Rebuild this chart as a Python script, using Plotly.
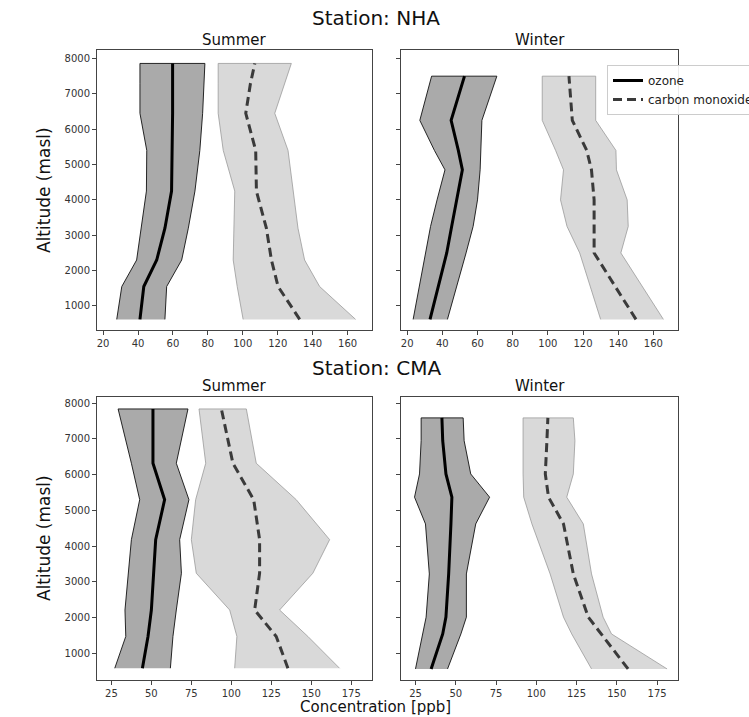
import plotly.graph_objects as go

# ---------------- data ----------------
# NHA summer
nha_su_alt = [620, 1550, 2300, 3200, 4250, 5400, 6450, 7300, 7860]
nha_su_o3_mean = [41.1, 43.3, 50.7, 55.4, 59.2, 59.6, 59.8, 59.8, 59.8]
nha_su_o3_low = [27.8, 30.7, 39.2, 41.7, 44.8, 45.0, 41.1, 41.1, 41.1]
nha_su_o3_high = [55.4, 56.4, 65.0, 68.8, 72.6, 75.4, 77.0, 77.7, 78.3]
nha_su_co_mean = [132.6, 120.2, 116.4, 113.5, 107.8, 107.4, 101.7, 104.4, 106.9]
nha_su_co_low = [100.2, 96.8, 94.5, 95.0, 95.4, 88.8, 85.9, 85.9, 85.9]
nha_su_co_high = [164.6, 144.0, 135.4, 131.6, 128.8, 125.9, 118.3, 124.0, 127.8]

# NHA winter
nha_wi_alt = [620, 2500, 3250, 4000, 4850, 5400, 6250, 7500]
nha_wi_o3_mean = [33.0, 42.5, 45.3, 48.2, 51.4, 49.1, 45.0, 52.6]
nha_wi_o3_low = [23.4, 30.5, 33.3, 37.0, 41.5, 35.5, 27.2, 33.9]
nha_wi_o3_high = [42.9, 53.5, 57.5, 60.0, 61.5, 62.1, 62.5, 71.0]
nha_wi_co_mean = [150.1, 126.3, 126.3, 126.3, 124.8, 122.1, 113.9, 112.0]
nha_wi_co_low = [130.0, 118.1, 110.9, 107.2, 108.9, 104.4, 96.8, 96.8]
nha_wi_co_high = [165.7, 141.5, 145.7, 145.1, 139.0, 138.7, 127.2, 127.2]

# CMA summer
cma_su_alt = [580, 1470, 2210, 3240, 4180, 5300, 6320, 7840]
cma_su_o3_mean = [44.4, 47.9, 50.0, 51.5, 52.7, 58.3, 51.0, 51.0]
cma_su_o3_low = [27.1, 34.0, 33.5, 35.4, 37.5, 42.7, 37.5, 29.2]
cma_su_o3_high = [61.9, 63.5, 65.6, 68.8, 67.7, 73.5, 65.6, 72.9]
cma_su_co_mean = [135.4, 128.1, 114.6, 117.7, 117.7, 114.0, 101.0, 93.8]
cma_su_co_low = [102.1, 103.5, 99.0, 78.1, 75.0, 77.7, 84.0, 79.8]
cma_su_co_high = [167.7, 147.9, 130.2, 151.0, 161.5, 140.6, 115.6, 109.4]

# CMA winter
cma_wi_alt = [560, 1540, 2010, 3220, 4620, 5370, 6020, 6950, 7590]
cma_wi_o3_mean = [34.7, 41.9, 43.9, 45.6, 47.0, 47.6, 43.9, 41.9, 41.4]
cma_wi_o3_low = [25.0, 29.5, 31.6, 33.6, 31.2, 24.4, 27.5, 28.5, 28.5]
cma_wi_o3_high = [44.9, 53.2, 56.6, 56.6, 62.4, 71.0, 59.3, 55.2, 54.6]
cma_wi_co_mean = [157.0, 140.5, 132.3, 123.0, 116.9, 107.6, 105.6, 106.6, 107.2]
cma_wi_co_low = [134.3, 122.0, 116.9, 108.6, 97.3, 92.2, 91.8, 91.8, 91.8]
cma_wi_co_high = [181.2, 146.7, 141.5, 134.3, 129.2, 118.9, 123.0, 124.0, 123.0]

top_xticks = [20, 40, 60, 80, 100, 120, 140, 160]
bottom_xticks = [25, 50, 75, 100, 125, 150, 175]
yticks = [1000, 2000, 3000, 4000, 5000, 6000, 7000, 8000]

panels = [
    # (alt, o3 mean, low, high, co mean, low, high, xaxis id, yaxis id)
    (nha_su_alt, nha_su_o3_mean, nha_su_o3_low, nha_su_o3_high, nha_su_co_mean, nha_su_co_low, nha_su_co_high, "x", "y"),
    (nha_wi_alt, nha_wi_o3_mean, nha_wi_o3_low, nha_wi_o3_high, nha_wi_co_mean, nha_wi_co_low, nha_wi_co_high, "x2", "y2"),
    (cma_su_alt, cma_su_o3_mean, cma_su_o3_low, cma_su_o3_high, cma_su_co_mean, cma_su_co_low, cma_su_co_high, "x3", "y3"),
    (cma_wi_alt, cma_wi_o3_mean, cma_wi_o3_low, cma_wi_o3_high, cma_wi_co_mean, cma_wi_co_low, cma_wi_co_high, "x4", "y4"),
]

W, H = 749, 717
FONT = "DejaVu Sans"
fig = go.Figure()

for i, (alt, om, ol, oh, cm, cl, ch, xa, ya) in enumerate(panels):
    # CO band
    fig.add_trace(go.Scatter(
        x=list(cl) + list(ch)[::-1], y=list(alt) + list(alt)[::-1],
        fill="toself", fillcolor="#d9d9d9", mode="lines",
        line=dict(color="#9a9a9a", width=0.8), showlegend=False,
        hoverinfo="skip", xaxis=xa, yaxis=ya))
    # O3 band
    fig.add_trace(go.Scatter(
        x=list(ol) + list(oh)[::-1], y=list(alt) + list(alt)[::-1],
        fill="toself", fillcolor="#aaaaaa", mode="lines",
        line=dict(color="#111111", width=0.9), showlegend=False,
        hoverinfo="skip", xaxis=xa, yaxis=ya))
    fig.add_trace(go.Scatter(
        x=om, y=alt, mode="lines", name="ozone",
        line=dict(color="#000000", width=3), showlegend=(i == 1),
        xaxis=xa, yaxis=ya))
    fig.add_trace(go.Scatter(
        x=cm, y=alt, mode="lines", name="carbon monoxide",
        line=dict(color="#3a3a3a", width=3, dash="9px,5px"), showlegend=(i == 1),
        xaxis=xa, yaxis=ya))

xl = [97 / W, 372 / W]
xr = [401 / W, 678 / W]
yt = [1 - 330 / H, 1 - 50 / H]
yb = [1 - 680 / H, 1 - 397 / H]

axis_common = dict(showline=True, mirror=True, linecolor="#444444", linewidth=1,
                   ticks="outside", ticklen=4, tickcolor="#444444",
                   showgrid=False, zeroline=False,
                   tickfont=dict(family=FONT, size=10, color="#333333"))

fig.update_layout(
    xaxis=dict(domain=xl, anchor="y", range=[16.5, 174], tickvals=top_xticks, **axis_common),
    yaxis=dict(domain=yt, anchor="x", range=[320, 8240], tickvals=yticks, **axis_common),
    xaxis2=dict(domain=xr, anchor="y2", range=[16.5, 174], tickvals=top_xticks, **axis_common),
    yaxis2=dict(domain=yt, anchor="x2", range=[320, 8240], tickvals=yticks, showticklabels=False, **axis_common),
    xaxis3=dict(domain=xl, anchor="y3", range=[16, 188], tickvals=bottom_xticks, **axis_common),
    yaxis3=dict(domain=yb, anchor="x3", range=[250, 8175], tickvals=yticks, **axis_common),
    xaxis4=dict(domain=xr, anchor="y4", range=[16, 188], tickvals=bottom_xticks, **axis_common),
    yaxis4=dict(domain=yb, anchor="x4", range=[250, 8175], tickvals=yticks, showticklabels=False, **axis_common),
)

annots = [
    ("Station: NHA", 376, 18, 20, 0),
    ("Summer", 234.5, 40, 15, 0),
    ("Winter", 539.5, 40, 15, 0),
    ("Station: CMA", 376, 368, 20, 0),
    ("Summer", 234.5, 386, 15, 0),
    ("Winter", 539.5, 386, 15, 0),
    ("Concentration [ppb]", 375, 707, 15, 0),
    ("Altitude (masl)", 44, 190, 17, -90),
    ("Altitude (masl)", 44, 538, 17, -90),
]
for text, px, py, size, ang in annots:
    fig.add_annotation(text=text, x=px / W, y=1 - py / H, xref="paper", yref="paper",
                       showarrow=False, xanchor="center", yanchor="middle", textangle=ang,
                       font=dict(family=FONT, size=size, color="#111111"))

fig.update_layout(
    width=W, height=H,
    margin=dict(l=0, r=0, t=0, b=0, autoexpand=False),
    paper_bgcolor="white", plot_bgcolor="white",
    showlegend=True,
    legend=dict(x=607 / W, y=1 - 65 / H, xanchor="left", yanchor="top",
                bgcolor="rgba(255,255,255,0.9)", bordercolor="#cccccc", borderwidth=1,
                font=dict(family=FONT, size=12, color="#222222"),
                tracegroupgap=0, itemwidth=30),
    font=dict(family=FONT),
)

fig.write_html("out.html")
